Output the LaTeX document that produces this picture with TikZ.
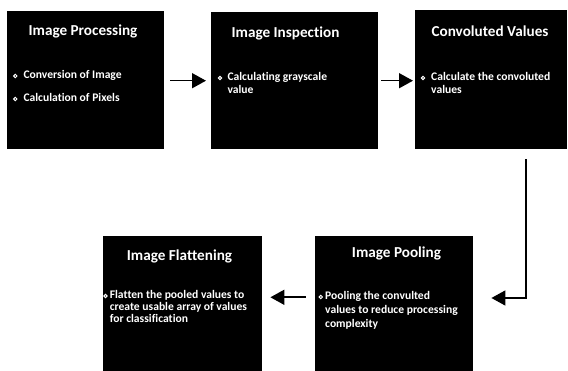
\documentclass[tikz,border=0pt]{standalone}
\usepackage{fontspec}
\setmainfont{Carlito}[Ligatures=NoCommon]
\usetikzlibrary{arrows.meta}
\begin{document}
\begin{tikzpicture}[x=1pt,y=-1pt,
  box/.style={fill=black, draw=none, anchor=north west, inner sep=0pt},
  title/.style={text=white, font=\fontsize{15.2}{18}\selectfont\bfseries, inner sep=0pt, anchor=center},
  item/.style={text=white, font=\fontsize{11.6}{#1}\selectfont\bfseries, anchor=north west, inner sep=0pt, align=left},
  item/.default=13,
  dot/.style={draw=white, line width=1pt, circle, inner sep=0pt, minimum size=3.4pt},
  arr/.style={line width=1.6pt, -{Triangle[length=14pt,width=15pt]}}]
\useasboundingbox (0,0) rectangle (568,371);

% boxes
\node[box, minimum width=157pt, minimum height=138pt] (b1) at (7,11) {};
\node[box, minimum width=167pt, minimum height=137pt] (b2) at (211,12) {};
\node[box, minimum width=152pt, minimum height=139pt] (b3) at (415,10) {};
\node[box, minimum width=159pt, minimum height=135pt] (b4) at (103,236) {};
\node[box, minimum width=158pt, minimum height=135pt] (b5) at (315,236) {};

% titles
\node[title] (t1) at (83,31) {Image Processing};
\node[title] (t2) at (285.5,33) {Image Inspection};
\node[title] (t3) at (490,31) {Convoluted Values};
\node[title] (t4) at (179.5,256) {Image Flattening};
\node[title] (t5) at (396.5,253) {Image Pooling};

% bullets
\node[dot] (d1a) at (15.3,76) {};
\node[dot] (d1b) at (15.3,99) {};
\node[dot] (d2) at (220,78) {};
\node[dot] (d3) at (423,78) {};
\node[dot] (d4) at (105.5,296) {};
\node[dot] (d5) at (320.8,297) {};

% items
\node[item] (i1a) at (23.3,{78.7-9.1}) {\strut Conversion of Image};
\node[item] (i1b) at (23.3,{101.7-9.1}) {\strut Calculation of Pixels};
\node[item] (i2) at (227.3,{80.7-9.1}) {\strut Calculating grayscale\\value};
\node[item] (i3) at (431,{80.7-9.1}) {\strut Calculate the convoluted\\values};
\node[item=11.7] (i4) at (109.6,{298.7-8.19}) {\strut Flatten the pooled values to\\create usable array of values\\for classification};
\node[item=14] (i5) at (325,{299.7-9.8}) {\strut Pooling the convulted\\values to reduce processing\\complexity};

% connector helpers
\coordinate (ay) at (0,80.7);
\coordinate (ex) at (526,0);
\coordinate (ey) at (0,298);
\coordinate (by) at (0,297.3);

% connectors
\draw[arr, shorten <=6pt, shorten >=5pt] (b1.east |- ay) -- (b2.west |- ay);
\draw[arr, shorten <=3pt, shorten >=2pt] (b2.east |- ay) -- (b3.west |- ay);
\draw[arr, shorten <=10pt, shorten >=18pt] (b3.south -| ex) |- (b5.east |- ey);
\draw[arr, shorten <=9.5pt, shorten >=8pt] (b5.west |- by) -- (b4.east |- by);
\end{tikzpicture}
\end{document}
